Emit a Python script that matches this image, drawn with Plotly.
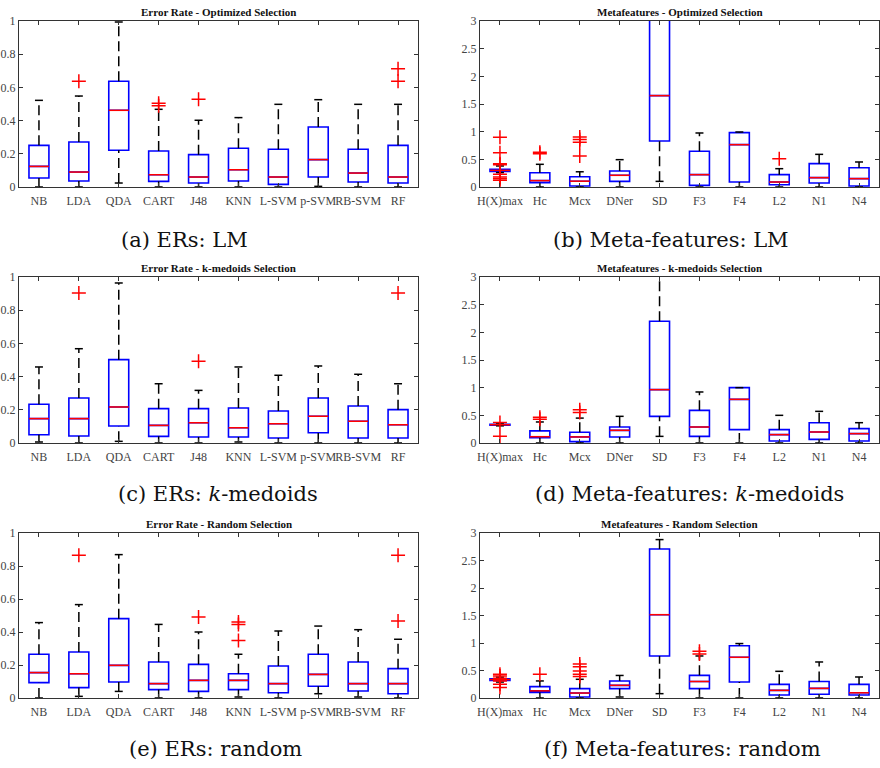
import plotly.graph_objects as go

ER_NAMES = ["NB", "LDA", "QDA", "CART", "J48", "KNN", "L-SVM", "p-SVM", "RB-SVM", "RF"]
MF_NAMES = ["H(X)max", "Hc", "Mcx", "DNer", "SD", "F3", "F4", "L2", "N1", "N4"]

# (a) Error Rate - Optimized Selection
A_LO = [0, 0, 0.024, 0, 0, 0, 0, 0.004, 0, 0]
A_Q1 = [0.054, 0.036, 0.221, 0.034, 0.024, 0.036, 0.016, 0.060, 0.030, 0.024]
A_MED = [0.124, 0.090, 0.462, 0.074, 0.060, 0.104, 0.060, 0.165, 0.084, 0.060]
A_Q3 = [0.251, 0.271, 0.637, 0.217, 0.195, 0.233, 0.227, 0.361, 0.227, 0.251]
A_HI = [0.522, 0.548, 0.994, 0.468, 0.402, 0.418, 0.498, 0.526, 0.498, 0.498]
A_OUT = [[], [0.637], [], [0.49, 0.505], [0.528], [], [], [], [], [0.637, 0.713]]

# (b) Metafeatures - Optimized Selection
B_LO = [0.26, 0, 0, 0, 0.102, 0, 0, 0, 0, 0]
B_Q1 = [0.28, 0.078, 0.018, 0.102, 0.831, 0.030, 0.090, 0.042, 0.072, 0.018]
B_MED = [0.30, 0.115, 0.105, 0.211, 1.651, 0.223, 0.765, 0.090, 0.169, 0.151]
B_Q3 = [0.32, 0.258, 0.185, 0.289, 3.3, 0.645, 0.982, 0.223, 0.422, 0.349]
B_HI = [0.38, 0.41, 0.275, 0.494, 5.0, 0.976, 0.994, 0.331, 0.590, 0.452]
B_OUT = [[0.90, 0.62, 0.42, 0.40, 0.23, 0.18, 0.15, 0.12], [0.60, 0.63],
         [0.56, 0.81, 0.86, 0.905], [], [], [], [], [0.512], [], []]

# (c) Error Rate - k-medoids Selection
C_LO = [0.006, 0, 0.01, 0, 0, 0.006, 0, 0, 0, 0]
C_Q1 = [0.050, 0.042, 0.102, 0.040, 0.036, 0.036, 0.030, 0.062, 0.030, 0.030]
C_MED = [0.147, 0.147, 0.217, 0.106, 0.122, 0.092, 0.116, 0.161, 0.131, 0.110]
C_Q3 = [0.233, 0.271, 0.502, 0.207, 0.207, 0.211, 0.193, 0.271, 0.223, 0.201]
C_HI = [0.458, 0.568, 0.964, 0.357, 0.317, 0.458, 0.408, 0.464, 0.414, 0.357]
C_OUT = [[], [0.904], [], [], [0.492], [], [], [], [], [0.904]]

# (d) Metafeatures - k-medoids Selection
D_LO = [0.31, 0, 0, 0, 0.120, 0, 0, 0, 0, 0]
D_Q1 = [0.322, 0.096, 0.024, 0.108, 0.482, 0.120, 0.241, 0.036, 0.065, 0.036]
D_MED = [0.33, 0.114, 0.11, 0.229, 0.964, 0.289, 0.789, 0.151, 0.199, 0.169]
D_Q3 = [0.338, 0.22, 0.195, 0.289, 2.199, 0.590, 1.0, 0.241, 0.367, 0.259]
D_HI = [0.345, 0.38, 0.45, 0.482, 3.6, 0.922, 1.0, 0.5, 0.572, 0.367]
D_OUT = [[0.37, 0.12], [0.43, 0.465], [0.55, 0.60], [], [], [], [], [], [], []]

# (e) Error Rate - Random Selection
E_LO = [0, 0.01, 0.040, 0, 0, 0.006, 0, 0.026, 0.006, 0]
E_Q1 = [0.093, 0.063, 0.097, 0.051, 0.040, 0.051, 0.032, 0.071, 0.042, 0.026]
E_MED = [0.154, 0.147, 0.198, 0.087, 0.107, 0.107, 0.087, 0.143, 0.087, 0.087]
E_Q3 = [0.265, 0.279, 0.481, 0.218, 0.204, 0.147, 0.194, 0.265, 0.218, 0.178]
E_HI = [0.457, 0.566, 0.869, 0.446, 0.40, 0.265, 0.406, 0.436, 0.414, 0.356]
E_OUT = [[], [0.865], [], [], [0.491], [0.349, 0.446, 0.461], [], [], [], [0.467, 0.865]]

# (f) Metafeatures - Random Selection
F_LO = [0.29, 0, 0, 0.018, 0.079, 0, 0, 0, 0, 0]
F_Q1 = [0.32, 0.10, 0.018, 0.17, 0.764, 0.17, 0.29, 0.055, 0.067, 0.055]
F_MED = [0.335, 0.13, 0.09, 0.23, 1.515, 0.30, 0.74, 0.139, 0.175, 0.095]
F_Q3 = [0.35, 0.206, 0.17, 0.31, 2.71, 0.412, 0.95, 0.248, 0.30, 0.248]
F_HI = [0.38, 0.31, 0.34, 0.41, 2.88, 0.764, 0.99, 0.485, 0.655, 0.382]
F_OUT = [[0.43, 0.40, 0.36, 0.33, 0.31, 0.25, 0.19], [0.43],
         [0.39, 0.43, 0.49, 0.57, 0.62], [], [], [0.80, 0.85], [], [], [], []]

PANELS = [
    ("Error Rate - Optimized Selection", ER_NAMES, A_LO, A_Q1, A_MED, A_Q3, A_HI, A_OUT, 1),
    ("Metafeatures - Optimized Selection", MF_NAMES, B_LO, B_Q1, B_MED, B_Q3, B_HI, B_OUT, 3),
    ("Error Rate - k-medoids Selection", ER_NAMES, C_LO, C_Q1, C_MED, C_Q3, C_HI, C_OUT, 1),
    ("Metafeatures - k-medoids Selection", MF_NAMES, D_LO, D_Q1, D_MED, D_Q3, D_HI, D_OUT, 3),
    ("Error Rate - Random Selection", ER_NAMES, E_LO, E_Q1, E_MED, E_Q3, E_HI, E_OUT, 1),
    ("Metafeatures - Random Selection", MF_NAMES, F_LO, F_Q1, F_MED, F_Q3, F_HI, F_OUT, 3),
]
CAPTIONS = ["(a) ERs: LM", "(b) Meta-features: LM",
            "(c) ERs: <i>k</i>-medoids", "(d) Meta-features: <i>k</i>-medoids",
            "(e) ERs: random", "(f) Meta-features: random"]

W, H = 880, 768
X_DOM = [(19, 418), (480, 879)]
Y_DOM = [(21, 187), (277, 443), (533, 698)]
CAP_Y = [240, 494, 749]
CAP_X = [184, 671, 218, 689, 215, 682]

TICKFONT = "Liberation Serif"
CAPFONT = "DejaVu Serif"
fig = go.Figure()
layout = dict(width=W, height=H, margin=dict(l=0, r=0, t=0, b=0),
              paper_bgcolor="white", plot_bgcolor="white", showlegend=False,
              annotations=[])

for k, (title, names, lo, q1, med, q3, hi, outs, ymax) in enumerate(PANELS):
    row, col = k // 2, k % 2
    n = k + 1
    xa = "x" if n == 1 else f"x{n}"
    ya = "y" if n == 1 else f"y{n}"
    pos = list(range(1, len(names) + 1))

    wx, wy, cx, cy, mx, my, ox, oy = [], [], [], [], [], [], [], []
    for i, p in enumerate(pos):
        wx += [p, p, None, p, p, None]
        wy += [q3[i], hi[i], None, lo[i], q1[i], None]
        cx += [p - 0.1, p + 0.1, None, p - 0.1, p + 0.1, None]
        cy += [hi[i], hi[i], None, lo[i], lo[i], None]
        mx += [p - 0.25, p + 0.25, None]
        my += [med[i], med[i], None]
        for v in outs[i]:
            ox.append(p)
            oy.append(v)

    fig.add_trace(go.Scatter(x=wx, y=wy, mode="lines", xaxis=xa, yaxis=ya,
                             line=dict(color="black", width=1.5, dash="10px,5px"),
                             hoverinfo="skip"))
    fig.add_trace(go.Scatter(x=cx, y=cy, mode="lines", xaxis=xa, yaxis=ya,
                             line=dict(color="black", width=1.5), hoverinfo="skip"))
    fig.add_trace(go.Box(x=pos, q1=q1, median=med, q3=q3, lowerfence=q1, upperfence=q3,
                         width=0.5, whiskerwidth=0, boxpoints=False,
                         fillcolor="rgba(0,0,0,0)", line=dict(color="#0000ff", width=1.6),
                         xaxis=xa, yaxis=ya))
    fig.add_trace(go.Scatter(x=mx, y=my, mode="lines", xaxis=xa, yaxis=ya,
                             line=dict(color="#ff0000", width=1.5), hoverinfo="skip"))
    fig.add_trace(go.Scatter(x=ox, y=oy, mode="markers", xaxis=xa, yaxis=ya,
                             marker=dict(symbol="cross-thin", size=10,
                                         line=dict(color="#ff0000", width=1.5)),
                             hoverinfo="skip"))

    x0, x1 = X_DOM[col]
    y0, y1 = Y_DOM[row]
    axkey = "xaxis" if n == 1 else f"xaxis{n}"
    aykey = "yaxis" if n == 1 else f"yaxis{n}"
    layout[axkey] = dict(domain=[x0 / W, x1 / W], anchor=ya, range=[0.5, len(names) + 0.5],
                         tickmode="array", tickvals=pos, ticktext=names, tickangle=0,
                         automargin=False, ticklabelstandoff=3,
                         ticks="inside", ticklen=4, tickcolor="#333", mirror="ticks",
                         showline=True, linecolor="#333", linewidth=1, showgrid=False,
                         zeroline=False, tickfont=dict(family=TICKFONT, size=12, color="#444"))
    layout[aykey] = dict(domain=[1 - y1 / H, 1 - y0 / H], anchor=xa, range=[0, ymax],
                         dtick=0.2 if ymax == 1 else 0.5, tick0=0, automargin=False,
                         ticks="inside", ticklen=4, tickcolor="#333", mirror="ticks",
                         showline=True, linecolor="#333", linewidth=1, showgrid=False,
                         zeroline=False, tickfont=dict(family=TICKFONT, size=12, color="#444"))
    layout["annotations"].append(dict(
        text=f"<b>{title}</b>", x=(x0 + x1) / 2 / W, y=1 - (y0 - 9) / H,
        xref="paper", yref="paper", xanchor="center", yanchor="middle",
        showarrow=False, font=dict(family=TICKFONT, size=11, color="#111")))
    layout["annotations"].append(dict(
        text=CAPTIONS[k], x=CAP_X[k] / W, y=1 - CAP_Y[row] / H,
        xref="paper", yref="paper", xanchor="center", yanchor="middle",
        showarrow=False, font=dict(family=CAPFONT, size=21, color="#111")))

fig.update_layout(**layout)
fig.write_html("out.html", config={"displayModeBar": False},
               post_script="document.body.style.margin='0px';document.body.style.overflow='hidden';")
